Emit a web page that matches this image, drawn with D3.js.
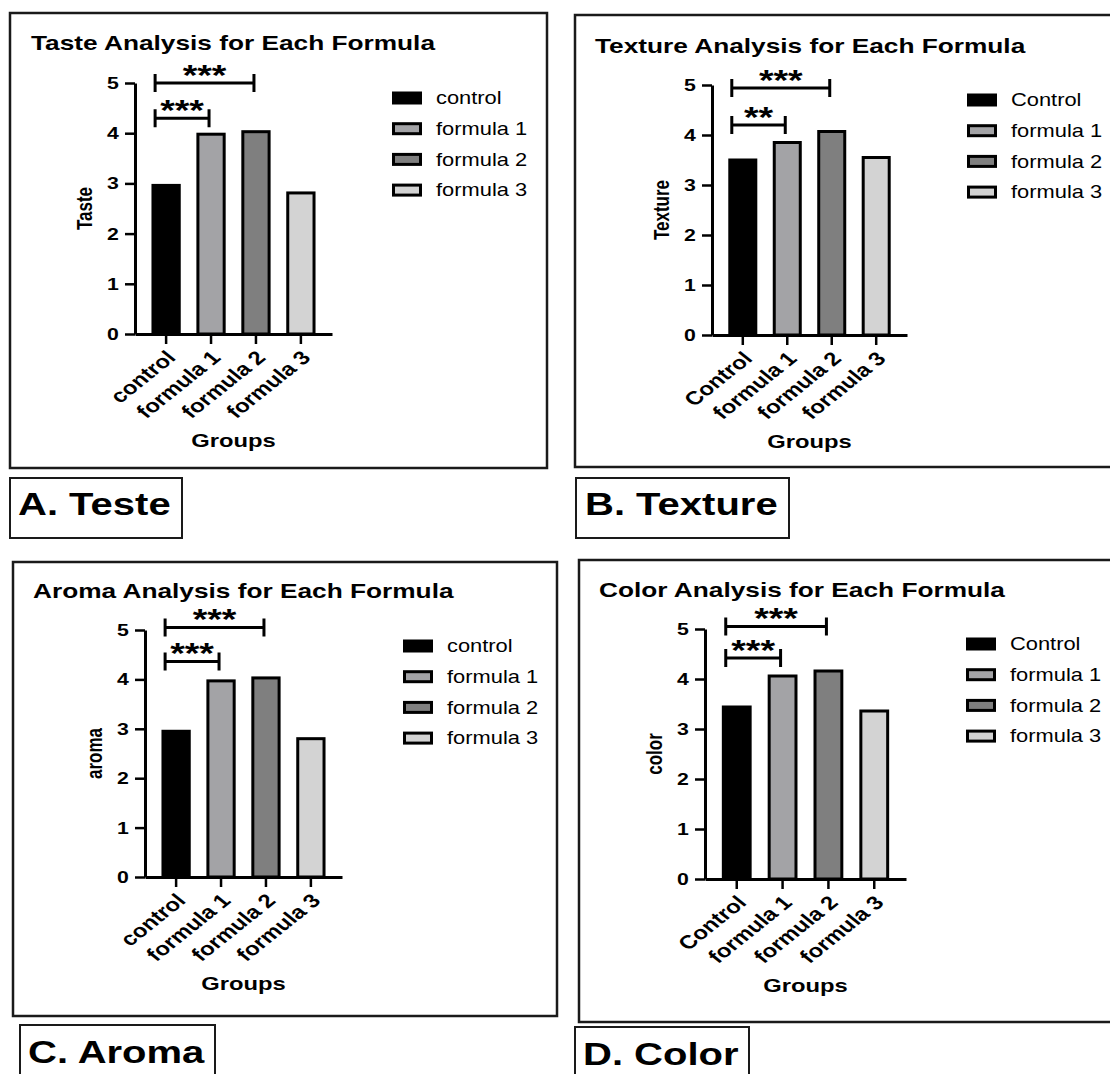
<!DOCTYPE html>
<html>
<head>
<meta charset="utf-8">
<script src="https://cdn.jsdelivr.net/npm/d3@7"></script>
<style>
  body { margin: 0; background: #fff; }
  text { font-family: "Liberation Sans", Arial, sans-serif; fill: #000; }
</style>
</head>
<body>
<script>
// x categories (B and D spell the first one with a capital)
const groupsLower = ["control", "formula 1", "formula 2", "formula 3"];
const groupsUpper = ["Control", "formula 1", "formula 2", "formula 3"];

// mean scores
const tasteValues   = [2.96, 3.98, 4.03, 2.81];
const textureValues = [3.50, 3.85, 4.07, 3.55];
const aromaValues   = [2.95, 3.97, 4.03, 2.80];
const colorValues   = [3.44, 4.06, 4.16, 3.36];

const yTicks = [0, 1, 2, 3, 4, 5];

// significance brackets: [from group, to group, height, stars]
const tasteSig   = [[0, 2, 5.0, "***"], [0, 1, 4.3, "***"]];
const textureSig = [[0, 2, 4.94, "***"], [0, 1, 4.2, "**"]];
const aromaSig   = [[0, 2, 5.05, "***"], [0, 1, 4.36, "***"]];
const colorSig   = [[0, 2, 5.05, "***"], [0, 1, 4.42, "***"]];

const fills = ["#000000", "#a3a3a6", "#7f7f7f", "#d3d3d3"];

// the source figure is stretched sideways, so text is too
const SX = 1.25;

const panels = [
  {title: "Taste Analysis for Each Formula", yLabel: "Taste", tag: "A. Teste",
   groups: groupsLower, values: tasteValues, sig: tasteSig,
   box: [10, 13, 537, 455], titleX: 31, titleY: 50,
   axisX: 135, xEnd: 332, y0: 334, y5: 83,
   legX: 392, legY: 98, tagBox: [10, 478, 172, 60], tagText: [18, 515]},
  {title: "Texture Analysis for Each Formula", yLabel: "Texture", tag: "B. Texture",
   groups: groupsUpper, values: textureValues, sig: textureSig,
   box: [575, 15, 560, 452], titleX: 595, titleY: 53,
   axisX: 712, xEnd: 907, y0: 335, y5: 85,
   legX: 967, legY: 100, tagBox: [576, 478, 213, 60], tagText: [585, 515]},
  {title: "Aroma Analysis for Each Formula", yLabel: "aroma", tag: "C. Aroma",
   groups: groupsLower, values: aromaValues, sig: aromaSig,
   box: [13, 562, 544, 454], titleX: 33, titleY: 598,
   axisX: 145, xEnd: 342, y0: 877, y5: 630,
   legX: 403, legY: 646, tagBox: [20, 1025, 195, 70], tagText: [28, 1063]},
  {title: "Color Analysis for Each Formula", yLabel: "color", tag: "D. Color",
   groups: groupsUpper, values: colorValues, sig: colorSig,
   box: [579, 560, 560, 462], titleX: 599, titleY: 597,
   axisX: 705, xEnd: 906, y0: 879, y5: 629,
   legX: 966, legY: 644, tagBox: [575, 1027, 174, 70], tagText: [583, 1065]}
];

const svg = d3.select("body")
    .append("svg")
    .attr("width", 1110)
    .attr("height", 1074)
    .style("background", "#fff");

function stext(g, x, y, str, size, weight, anchor) {
  return g.append("text")
    .attr("transform", `translate(${x},${y}) scale(${SX},1)`)
    .attr("font-size", size)
    .attr("font-weight", weight)
    .attr("text-anchor", anchor || "start")
    .text(str);
}

panels.forEach(p => {
  const g = svg.append("g");

  // frame around the panel
  g.append("rect")
    .attr("x", p.box[0]).attr("y", p.box[1])
    .attr("width", p.box[2]).attr("height", p.box[3])
    .attr("fill", "none").attr("stroke", "#1a1a1a").attr("stroke-width", 2.5);

  // panel tag box below
  g.append("rect")
    .attr("x", p.tagBox[0]).attr("y", p.tagBox[1])
    .attr("width", p.tagBox[2]).attr("height", p.tagBox[3])
    .attr("fill", "none").attr("stroke", "#1a1a1a").attr("stroke-width", 2);
  stext(g, p.tagText[0], p.tagText[1], p.tag, 32, "bold");

  stext(g, p.titleX, p.titleY, p.title, 21, "bold");

  const x = d3.scaleBand()
      .domain(p.groups)
      .range([p.axisX, p.xEnd])
      .paddingInner(0.415)
      .paddingOuter(0.4);

  const y = d3.scaleLinear()
      .domain([0, 5])
      .range([p.y0, p.y5]);

  // bars
  g.append("g")
    .selectAll("rect")
    .data(p.values)
    .join("rect")
    .attr("x", (d, i) => x(p.groups[i]))
    .attr("y", d => y(d))
    .attr("width", x.bandwidth())
    .attr("height", d => y(0) - y(d))
    .attr("fill", (d, i) => fills[i])
    .attr("stroke", "#000")
    .attr("stroke-width", 3);

  // y axis
  const yAxis = g.append("g")
    .attr("transform", `translate(${p.axisX},0)`)
    .call(d3.axisLeft(y).tickValues(yTicks).tickFormat(d3.format("d"))
      .tickSize(10).tickSizeOuter(0).tickPadding(3));
  yAxis.select(".domain").attr("stroke-width", 3).attr("stroke", "#000");
  yAxis.selectAll(".tick line").attr("stroke-width", 2.5).attr("stroke", "#000");
  yAxis.selectAll(".tick text")
    .attr("font-size", 17).attr("font-weight", "bold")
    .attr("font-family", null)
    .attr("transform", `scale(${SX},1)`);

  // x axis
  const xAxis = g.append("g")
    .attr("transform", `translate(0,${p.y0})`)
    .call(d3.axisBottom(x).tickSize(10).tickSizeOuter(0));
  xAxis.select(".domain").attr("stroke-width", 3).attr("stroke", "#000");
  xAxis.selectAll(".tick line").attr("stroke-width", 2.5).attr("stroke", "#000");
  xAxis.selectAll(".tick text")
    .attr("font-size", 19).attr("font-weight", "bold")
    .attr("font-family", null)
    .attr("x", 0).attr("y", 0).attr("dy", "0.35em")
    .attr("text-anchor", "end")
    .attr("transform", `translate(5,20) scale(${SX},1) rotate(-45)`);

  // axis titles
  g.append("text")
    .attr("transform", `translate(${p.axisX - 50},${(p.y0 + p.y5) / 2}) scale(${SX},1) rotate(-90)`)
    .attr("font-size", 17).attr("font-weight", "bold")
    .attr("text-anchor", "middle").attr("dy", "0.35em")
    .text(p.yLabel);
  stext(g, (p.axisX + p.xEnd) / 2, p.y0 + 113, "Groups", 19, "bold", "middle");

  // significance brackets
  const mid = i => x(p.groups[i]) + x.bandwidth() / 2;
  const sig = g.append("g");
  p.sig.forEach(s => {
    const x1 = mid(s[0]) - 11, x2 = mid(s[1]) - 2, yy = y(s[2]);
    sig.append("path")
      .attr("d", `M${x1},${yy - 9}V${yy + 9}M${x1},${yy}H${x2}M${x2},${yy - 9}V${yy + 9}`)
      .attr("fill", "none").attr("stroke", "#000").attr("stroke-width", 3);
    stext(sig, (x1 + x2) / 2, yy + 1.5, s[3], 30, "bold", "middle");
  });

  // legend
  const leg = g.append("g");
  p.groups.forEach((name, i) => {
    const ly = p.legY + i * 30.7;
    leg.append("rect")
      .attr("x", p.legX + 1.5).attr("y", ly - 5)
      .attr("width", 27).attr("height", 10)
      .attr("fill", fills[i]).attr("stroke", "#000").attr("stroke-width", 3);
    stext(leg, p.legX + 44, ly, name, 17.5, "normal").attr("dy", "0.35em");
  });
});
</script>
</body>
</html>
